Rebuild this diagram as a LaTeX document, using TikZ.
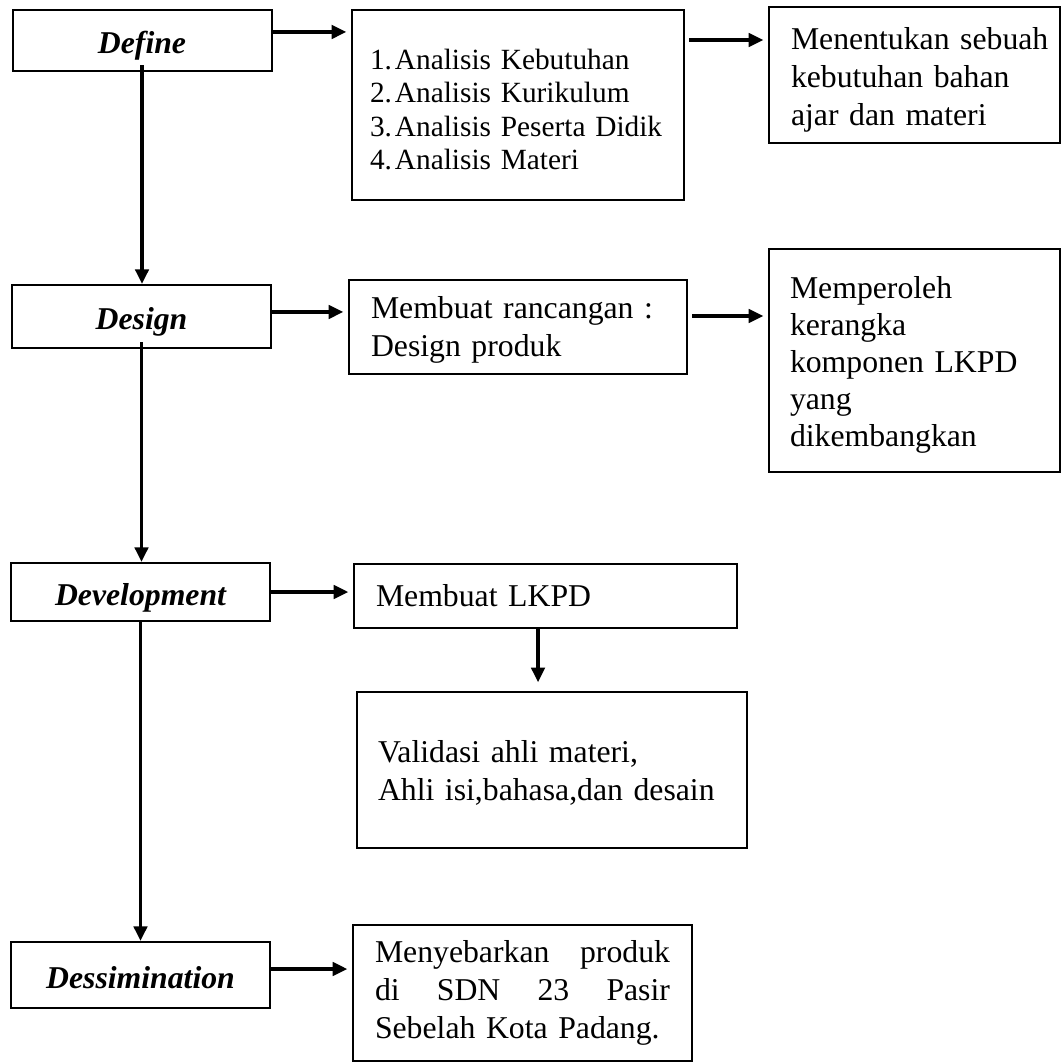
\documentclass[tikz,border=0pt]{standalone}
\usepackage{fontspec}
\setmainfont{Liberation Serif}
\usetikzlibrary{arrows.meta}
\begin{document}
\begin{tikzpicture}[x=0.75pt,y=-0.75pt,
  box/.style={draw, line width=1.5pt, inner ysep=0pt, font=\fontsize{23.8}{28.5}\selectfont},
  stage/.style={box, minimum width=194.25pt, inner xsep=0pt, text height=20pt, text depth=0pt,
    font=\fontsize{23.8}{28.5}\selectfont\bfseries\itshape},
  txt/.style={box, align=left},
  arr/.style={line width=2.6pt, -{Triangle[length=11pt,width=10pt]}},
  harr/.style={arr, shorten >=3.5pt},
]
\useasboundingbox (0,0) rectangle (1063,1063);
% left column
\node[stage, minimum height=45.75pt] (define) at (142,40.5) {Define};
\node[stage, minimum height=47.25pt] (design) at (141.5,316.5) {Design};
\node[stage, minimum height=43.5pt] (devel) at (140.5,592) {Development};
\node[stage, minimum height=49.5pt] (dissem) at (140.5,975) {Dessimination};
% middle and right
\node[txt, inner xsep=13.5pt, text width=222pt, text height=22pt, minimum height=142.5pt, font=\fontsize{22}{25}\selectfont] (list) at (518,105)
  {1.\hspace{0.1em}Analisis Kebutuhan\\2.\hspace{0.1em}Analisis Kurikulum\\3.\hspace{0.1em}Analisis Peserta Didik\\4.\hspace{0.1em}Analisis Materi};
\node[txt, inner xsep=16.5pt, text width=185.25pt, text height=23.4pt, minimum height=102pt] (tentukan) at (914.5,75)
  {\mbox{Menentukan sebuah}\\kebutuhan bahan\\ajar dan materi};
\node[txt, inner xsep=16.5pt, text width=220.5pt, text height=20.4pt, minimum height=70.5pt] (rancang) at (518,327)
  {\mbox{Membuat rancangan :}\\Design produk};
\node[txt, inner xsep=15.75pt, text width=186.75pt, text height=23.4pt, minimum height=167.25pt, font=\fontsize{23.8}{27.75}\selectfont] (peroleh) at (914.5,360.5)
  {Memperoleh\\kerangka\\komponen LKPD\\yang\\dikembangkan};
\node[txt, inner xsep=16.5pt, text width=254.25pt, minimum height=48pt] (lkpd) at (545.5,596)
  {Membuat LKPD};
\node[txt, inner xsep=15.75pt, text width=261pt, text height=20.4pt, minimum height=117pt] (valid) at (552,770)
  {Validasi ahli materi,\\\mbox{Ahli isi,bahasa,dan desain}};
\node[txt, inner xsep=16.5pt, text width=221.25pt, minimum height=102pt] (sebar) at (522.5,993)
  {Menyebarkan\hfill produk\\di\hfill SDN\hfill 23\hfill Pasir\\Sebelah Kota Padang.};
% horizontal connectors
\path ([yshift=6.4pt]define.east) coordinate (s1);
\draw[harr] (s1) -- (s1 -| list.west);
\path ([yshift=48.75pt]list.east) coordinate (s2);
\draw[harr] ([xshift=3pt]s2) -- (s2 -| tentukan.west);
\path ([yshift=3.4pt]design.east) coordinate (s3);
\draw[harr] (s3) -- (s3 -| rancang.west);
\path ([yshift=8.25pt]rancang.east) coordinate (s4);
\draw[harr] ([xshift=3pt]s4) -- (s4 -| peroleh.west);
\draw[harr] (devel.east) -- (devel.east -| lkpd.west);
\path ([yshift=4.5pt]dissem.east) coordinate (s5);
\draw[harr] (s5) -- (s5 -| sebar.west);
% vertical connectors
\draw[arr] ([yshift=5pt]define.south) -- (define.south |- design.north);
\draw[arr] ([yshift=5pt]design.south) -- (design.south |- devel.north);
\draw[arr] (devel.south) -- (devel.south |- dissem.north);
\path ([xshift=-5.6pt]lkpd.south) coordinate (s6);
\draw[arr, shorten >=6.5pt] (s6) -- (s6 |- valid.north);
\end{tikzpicture}
\end{document}
